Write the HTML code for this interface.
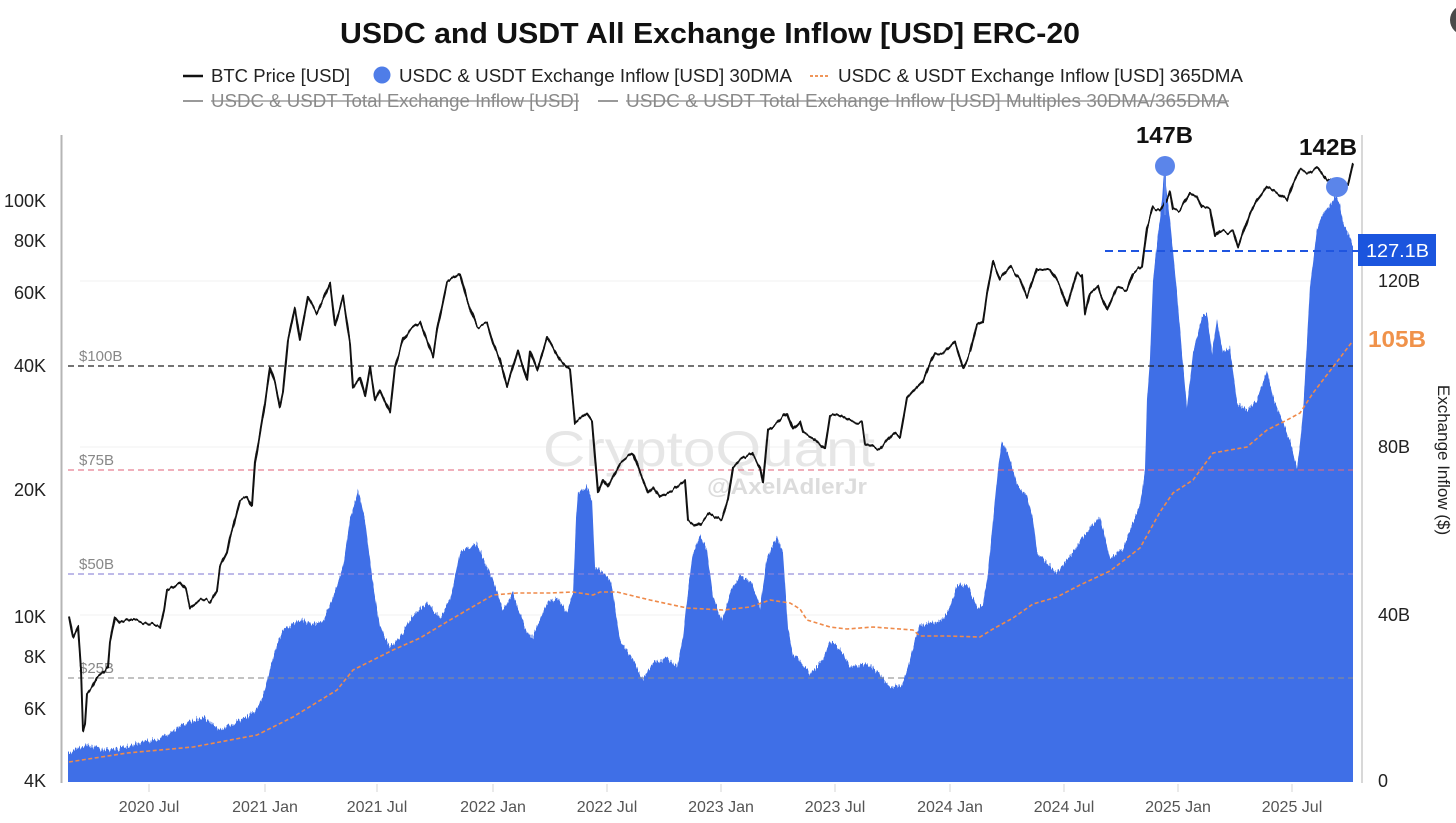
<!DOCTYPE html>
<html><head><meta charset="utf-8"><style>
html,body{margin:0;padding:0;background:#fff;}
svg{display:block;font-family:"Liberation Sans",Arial,sans-serif;}
</style></head><body>
<svg width="1456" height="823" viewBox="0 0 1456 823" xmlns="http://www.w3.org/2000/svg">
<defs>
  <clipPath id="plotClip"><rect x="60" y="120" width="1300" height="662"/></clipPath>
  <filter id="barNoise" filterUnits="userSpaceOnUse" x="0" y="0" width="1456" height="823" color-interpolation-filters="sRGB">
    <feTurbulence type="fractalNoise" baseFrequency="0.9 0.0005" numOctaves="1" seed="7" result="t"/>
    <feColorMatrix in="t" type="matrix" values="1 0 0 0 0  0 0 0 0 0.5  0 0 0 0 0  0 0 0 0 1" result="m"/>
    <feDisplacementMap in="SourceGraphic" in2="m" scale="12" xChannelSelector="G" yChannelSelector="R"/>
  </filter>
  <filter id="lineNoise" filterUnits="userSpaceOnUse" x="0" y="0" width="1456" height="823" color-interpolation-filters="sRGB">
    <feTurbulence type="fractalNoise" baseFrequency="0.22 0.0005" numOctaves="2" seed="3" result="t"/>
    <feColorMatrix in="t" type="matrix" values="1 0 0 0 0  0 0 0 0 0.5  0 0 0 0 0  0 0 0 0 1" result="m"/>
    <feDisplacementMap in="SourceGraphic" in2="m" scale="7" xChannelSelector="G" yChannelSelector="R"/>
  </filter>
</defs>
<rect width="1456" height="823" fill="#fff"/>
<circle cx="1465" cy="20" r="15" fill="#4a4a4a"/>

<!-- Title -->
<text x="340" y="43" font-size="29" font-weight="bold" fill="#111" textLength="740" lengthAdjust="spacingAndGlyphs">USDC and USDT All Exchange Inflow [USD] ERC-20</text>

<!-- Legend row 1 -->
<g font-size="18" fill="#222">
<line x1="183" y1="76" x2="203" y2="76" stroke="#111" stroke-width="2.5"/>
<text x="211" y="82" textLength="139" lengthAdjust="spacingAndGlyphs">BTC Price [USD]</text>
<circle cx="382" cy="75" r="8.5" fill="#4f7de8"/>
<text x="399" y="82" textLength="393" lengthAdjust="spacingAndGlyphs">USDC &amp; USDT Exchange Inflow [USD] 30DMA</text>
<line x1="810" y1="76" x2="830" y2="76" stroke="#f0965a" stroke-width="2" stroke-dasharray="3 2"/>
<text x="838" y="82" textLength="405" lengthAdjust="spacingAndGlyphs">USDC &amp; USDT Exchange Inflow [USD] 365DMA</text>
</g>
<!-- Legend row 2 -->
<g font-size="18" fill="#8a8a8a">
<line x1="183" y1="101" x2="203" y2="101" stroke="#999" stroke-width="2"/>
<text x="211" y="107" textLength="368" lengthAdjust="spacingAndGlyphs">USDC &amp; USDT Total Exchange Inflow [USD]</text>
<line x1="211" y1="101" x2="579" y2="101" stroke="#8a8a8a" stroke-width="1.3"/>
<line x1="598" y1="101" x2="618" y2="101" stroke="#999" stroke-width="2"/>
<text x="626" y="107" textLength="603" lengthAdjust="spacingAndGlyphs">USDC &amp; USDT Total Exchange Inflow [USD] Multiples 30DMA/365DMA</text>
<line x1="626" y1="101" x2="1229" y2="101" stroke="#8a8a8a" stroke-width="1.3"/>
</g>

<!-- Axes -->
<line x1="61.5" y1="135" x2="61.5" y2="783" stroke="#b5b5b5" stroke-width="2"/>
<line x1="1362" y1="135" x2="1362" y2="783" stroke="#d8d8d8" stroke-width="2"/>

<!-- faint gridlines -->
<g stroke="#f0f0f0" stroke-width="1">
<line x1="80" y1="281" x2="1353" y2="281"/>
<line x1="80" y1="447" x2="1353" y2="447"/>
<line x1="80" y1="615" x2="1353" y2="615"/>
</g>

<!-- Left axis labels -->
<g font-size="18" fill="#222" text-anchor="end">
<text x="46" y="207">100K</text>
<text x="46" y="247">80K</text>
<text x="46" y="299">60K</text>
<text x="46" y="372">40K</text>
<text x="46" y="496">20K</text>
<text x="46" y="623">10K</text>
<text x="46" y="663">8K</text>
<text x="46" y="715">6K</text>
<text x="46" y="787">4K</text>
</g>

<!-- Right axis labels -->
<g font-size="18" fill="#222">
<text x="1378" y="287">120B</text>
<text x="1378" y="453">80B</text>
<text x="1378" y="621">40B</text>
<text x="1378" y="787">0</text>
</g>
<text x="1438" y="460" font-size="17" fill="#222" text-anchor="middle" transform="rotate(90 1438 460)">Exchange Inflow ($)</text>

<!-- Bottom ticks and labels -->
<g stroke="#dcdcdc" stroke-width="1.2">
<line x1="149" y1="784" x2="149" y2="792"/><line x1="265" y1="784" x2="265" y2="792"/>
<line x1="377" y1="784" x2="377" y2="792"/><line x1="493" y1="784" x2="493" y2="792"/>
<line x1="607" y1="784" x2="607" y2="792"/><line x1="721" y1="784" x2="721" y2="792"/>
<line x1="835" y1="784" x2="835" y2="792"/><line x1="950" y1="784" x2="950" y2="792"/>
<line x1="1064" y1="784" x2="1064" y2="792"/><line x1="1178" y1="784" x2="1178" y2="792"/>
<line x1="1292" y1="784" x2="1292" y2="792"/>
</g>
<g font-size="16" fill="#555" text-anchor="middle">
<text x="149" y="812">2020 Jul</text><text x="265" y="812">2021 Jan</text>
<text x="377" y="812">2021 Jul</text><text x="493" y="812">2022 Jan</text>
<text x="607" y="812">2022 Jul</text><text x="721" y="812">2023 Jan</text>
<text x="835" y="812">2023 Jul</text><text x="950" y="812">2024 Jan</text>
<text x="1064" y="812">2024 Jul</text><text x="1178" y="812">2025 Jan</text>
<text x="1292" y="812">2025 Jul</text>
</g>

<!-- Watermark -->
<text x="543" y="466" font-size="50" fill="#e6e6e6" textLength="332" lengthAdjust="spacingAndGlyphs">CryptoQuant</text>
<text x="707" y="494" font-size="22" font-weight="bold" fill="#dcdcdc" textLength="160" lengthAdjust="spacingAndGlyphs">@AxelAdlerJr</text>

<!-- Bars (30DMA) -->
<g clip-path="url(#plotClip)">
<polygon filter="url(#barNoise)" fill="#3f6fe7" points="68,800 68,753 80,748 90,745 103,750 120,748 143,742 163,737 175,730 187,722 203,717 212,724 220,730 240,720 255,712 260,703 265,690 270,667 277,645 283,630 300,620 312,624 323,622 333,597 343,567 350,520 358,490 365,520 372,577 380,627 390,647 400,637 413,615 427,603 440,617 450,600 460,553 468,548 477,543 487,567 493,580 503,610 513,593 527,633 533,637 547,603 557,597 567,613 573,593 576,520 578,493 587,487 592,500 595,567 600,570 610,580 613,593 620,640 633,660 643,680 653,663 667,658 677,667 683,637 688,590 693,553 700,535 707,550 713,597 722,620 730,593 740,575 753,585 760,607 767,557 777,537 783,553 788,628 793,655 800,660 810,674 823,660 830,641 840,648 850,667 867,664 880,674 890,688 902,685 910,660 915,640 920,625 940,622 950,608 957,585 968,585 977,608 983,604 988,573 993,520 998,470 1002,440 1010,458 1017,485 1027,496 1033,520 1037,552 1047,562 1057,573 1073,552 1087,531 1100,517 1110,559 1123,548 1140,505 1145,470 1147,400 1150,360 1153,280 1158,235 1162,200 1164,172 1166,185 1170,220 1177,293 1182,353 1187,407 1193,353 1202,317 1207,313 1212,353 1217,320 1223,353 1230,347 1237,403 1247,410 1257,400 1267,370 1273,397 1282,420 1290,440 1297,467 1300,445 1303,413 1307,340 1310,287 1317,230 1323,213 1330,205 1336,195 1340,205 1343,223 1350,237 1353,247 1353,800"/>
</g>

<!-- Reference lines -->
<g stroke-width="1.3" stroke-dasharray="6 4">
<line x1="68" y1="366" x2="1353" y2="366" stroke="#222"/>
<line x1="68" y1="470" x2="1353" y2="470" stroke="#e46a80" stroke-opacity="0.85"/>
<line x1="68" y1="574" x2="1353" y2="574" stroke="#8c84d8" stroke-opacity="0.9"/>
<line x1="68" y1="678" x2="1353" y2="678" stroke="#8e8e8e" stroke-opacity="0.85"/>
</g>
<g font-size="15" fill="#888">
<text x="79" y="361">$100B</text>
<text x="79" y="465">$75B</text>
<text x="79" y="569">$50B</text>
<text x="79" y="673">$25B</text>
</g>

<!-- 365DMA -->
<polyline fill="none" stroke="#ef8a4a" stroke-width="1.6" stroke-dasharray="4 2.5" points="69,762 127,753 193,747 257,735 293,717 337,690 353,670 393,650 420,638 450,620 493,595 517,593 550,593 573,592 593,595 600,592 617,592 650,600 687,608 723,610 750,607 770,600 790,603 800,609 807,620 830,627 847,629 873,627 913,630 920,636 947,636 980,637 993,629 1013,618 1033,604 1057,597 1080,585 1110,571 1140,548 1160,512 1173,493 1193,480 1213,453 1247,447 1267,430 1287,420 1300,413 1313,393 1333,367 1352,342"/>

<!-- 127.1B line -->
<line x1="1105" y1="251" x2="1360" y2="251" stroke="#1f55e0" stroke-width="2" stroke-dasharray="8 5"/>

<!-- BTC price -->
<g filter="url(#lineNoise)">
<polyline fill="none" stroke="#111" stroke-width="2" stroke-linejoin="round" points="69,615 73,637 78,627 81,670 83,730 85,723 87,693 92,687 97,677 103,673 108,668 110,643 115,617 120,623 130,618 143,623 150,625 160,627 164,610 167,590 180,582 186,590 190,607 200,600 210,602 217,590 220,567 227,553 230,537 233,527 240,500 247,497 252,507 255,463 260,433 265,403 270,367 275,383 280,407 283,393 288,340 295,307 300,340 308,297 317,313 323,300 330,283 335,325 343,297 350,343 353,387 360,377 365,397 370,367 375,400 380,390 390,413 395,367 403,340 410,330 420,322 433,357 437,330 447,283 460,273 467,300 477,327 487,323 493,343 500,360 507,387 518,350 527,380 530,350 537,370 547,337 560,360 570,370 575,423 587,413 592,420 598,493 603,480 607,487 620,463 633,453 640,473 648,493 653,487 660,497 673,490 685,480 688,520 697,527 710,513 722,520 728,500 733,467 740,460 752,453 760,467 763,483 768,430 777,423 787,413 793,430 800,422 803,433 813,438 825,449 830,416 838,414 850,421 862,423 865,444 880,449 893,433 900,438 907,398 913,391 923,381 930,363 935,353 943,354 955,342 963,368 970,353 977,325 983,321 987,293 993,262 1000,279 1010,267 1020,279 1027,297 1037,269 1050,269 1060,286 1067,306 1077,272 1082,276 1085,314 1090,293 1098,286 1100,293 1107,310 1117,287 1127,290 1133,273 1142,267 1147,227 1153,207 1160,210 1167,200 1170,192 1173,210 1180,210 1190,193 1197,197 1202,207 1210,208 1215,237 1220,230 1227,233 1233,230 1238,247 1243,233 1250,213 1257,200 1267,187 1277,193 1287,200 1293,183 1300,170 1310,173 1318,168 1327,180 1340,180 1348,185 1353,163"/>
</g>

<!-- Peak markers -->
<line x1="1165" y1="170" x2="1165" y2="215" stroke="#5b85ea" stroke-width="2"/>
<circle cx="1165" cy="166" r="10" fill="#5b85ea"/>
<ellipse cx="1337" cy="187" rx="11" ry="10" fill="#5b85ea"/>
<text x="1136" y="143" font-size="23" font-weight="bold" fill="#111" textLength="57" lengthAdjust="spacingAndGlyphs">147B</text>
<text x="1299" y="155" font-size="23" font-weight="bold" fill="#111" textLength="58" lengthAdjust="spacingAndGlyphs">142B</text>

<!-- Right value labels -->
<rect x="1358" y="234" width="78" height="32" fill="#1b55de"/>
<text x="1366" y="257" font-size="18" fill="#fff" textLength="63" lengthAdjust="spacingAndGlyphs">127.1B</text>
<text x="1368" y="347" font-size="23" font-weight="bold" fill="#f0924a" textLength="58" lengthAdjust="spacingAndGlyphs">105B</text>
</svg>
</body></html>
